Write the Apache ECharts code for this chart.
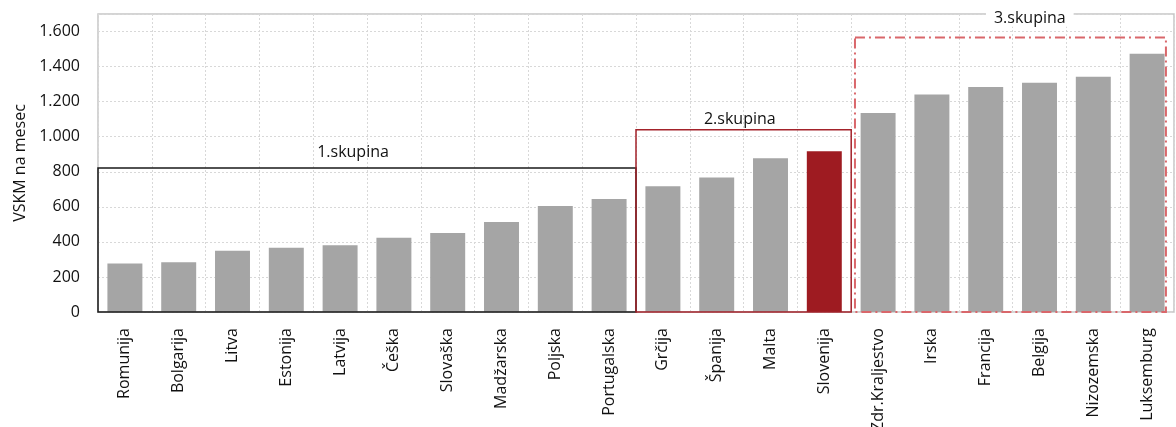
<!DOCTYPE html>
<html>
<head>
<meta charset="utf-8">
<script src="https://cdn.jsdelivr.net/npm/echarts@6/dist/echarts.min.js"></script>
<style>html,body{margin:0;padding:0;background:#fff}#c{width:1176px;height:427px}</style>
</head>
<body>
<div id="c"></div>
<script>
var categories = ["Romunija","Bolgarija","Litva","Estonija","Latvija","Češka","Slovaška","Madžarska","Poljska","Portugalska","Grčija","Španija","Malta","Slovenija","Zdr.Kraljestvo","Irska","Francija","Belgija","Nizozemska","Luksemburg"];
var values = [277, 284, 349, 366, 381, 423, 450, 513, 605, 645, 717, 767, 877, 917, 1135, 1241, 1283, 1308, 1342, 1473];
var highlight = "Slovenija";
var yTicks = [0, 200, 400, 600, 800, 1000, 1200, 1400, 1600];
var groupNames = ["1.skupina", "2.skupina", "3.skupina"];
var groupStart = [0, 10, 14];   // first category index of each group
var groupEnd = [10, 14, 20];    // index after last category
var groupTop = [821, 1040, 1566];

var FONT = '"Open Sans", sans-serif';
var boxStyles = [
  {stroke: '#1a1a1a', lineWidth: 1.5, lineDash: null, inset: [0, 0], labelX: 4.74, labelVal: 910, bg: null},
  {stroke: '#a3222a', lineWidth: 1.5, lineDash: null, inset: [0, 0], labelX: 11.93, labelVal: 1098, bg: null},
  {stroke: '#d9676b', lineWidth: 2, lineDash: [10, 4, 2, 4], inset: [0.07, -0.15], labelX: 17.32, labelVal: 1673, bg: '#fff'}
];

var boxData = groupNames.map(function (n, i) { return [groupStart[i], groupEnd[i], groupTop[i], i]; });

var chart = echarts.init(document.getElementById('c'), null, {renderer: 'canvas'});
chart.setOption({
  animation: false,
  grid: {left: 98, right: 2, top: 14, bottom: 115, show: true, borderColor: '#c6c6c6', borderWidth: 1.5,
         containLabel: false, outerBoundsMode: 'none'},
  xAxis: [{
    type: 'category', data: categories,
    axisLine: {show: false}, axisTick: {show: false},
    splitLine: {show: true, interval: 0, lineStyle: {color: '#d8d8d8', type: [2, 2], width: 1}},
    axisLabel: {rotate: 90, interval: 0, fontFamily: FONT, fontSize: 16, color: '#111', margin: 16}
  }, {
    type: 'value', min: 0, max: 20, show: false
  }],
  yAxis: {
    type: 'value', min: 0, max: 1700, interval: 200,
    name: 'VSKM na mesec', nameLocation: 'middle', nameGap: 70, nameRotate: 90,
    nameTextStyle: {fontFamily: FONT, fontSize: 16, color: '#111'},
    axisLine: {show: false}, axisTick: {show: false},
    splitLine: {show: true, lineStyle: {color: '#d8d8d8', type: [2, 2], width: 1}},
    axisLabel: {
      fontFamily: FONT, fontSize: 16, color: '#111', margin: 18,
      showMaxLabel: false,
      formatter: function (v) {
        if (yTicks.indexOf(v) < 0) return '';
        return String(v).replace(/\B(?=(\d{3})+(?!\d))/g, '.');
      }
    }
  },
  series: [{
    type: 'bar',
    barCategoryGap: '35%',
    data: values.map(function (v, i) {
      return {value: v, itemStyle: {color: categories[i] === highlight ? '#9e1b21' : '#a5a5a5'}};
    }),
    z: 2
  }, {
    type: 'custom',
    xAxisIndex: 1, yAxisIndex: 0,
    z: 5, clip: false,
    data: boxData,
    renderItem: function (params, api) {
      var i = api.value(3);
      var s = boxStyles[i];
      var p0 = api.coord([api.value(0) + s.inset[0], api.value(2)]);
      var p1 = api.coord([api.value(1) + s.inset[1], 0]);
      var lp = api.coord([s.labelX, s.labelVal]);
      var children = [{
        type: 'rect',
        shape: {x: p0[0], y: p0[1], width: p1[0] - p0[0], height: p1[1] - p0[1]},
        style: {fill: null, stroke: s.stroke, lineWidth: s.lineWidth, lineDash: s.lineDash}
      }, {
        type: 'text',
        style: {
          text: groupNames[i], x: lp[0], y: lp[1], align: 'center', verticalAlign: 'middle',
          font: '16px ' + FONT, fill: '#111',
          backgroundColor: s.bg, padding: s.bg ? [0, 8] : 0
        }
      }];
      return {type: 'group', children: children};
    }
  }]
});
</script>
</body>
</html>
